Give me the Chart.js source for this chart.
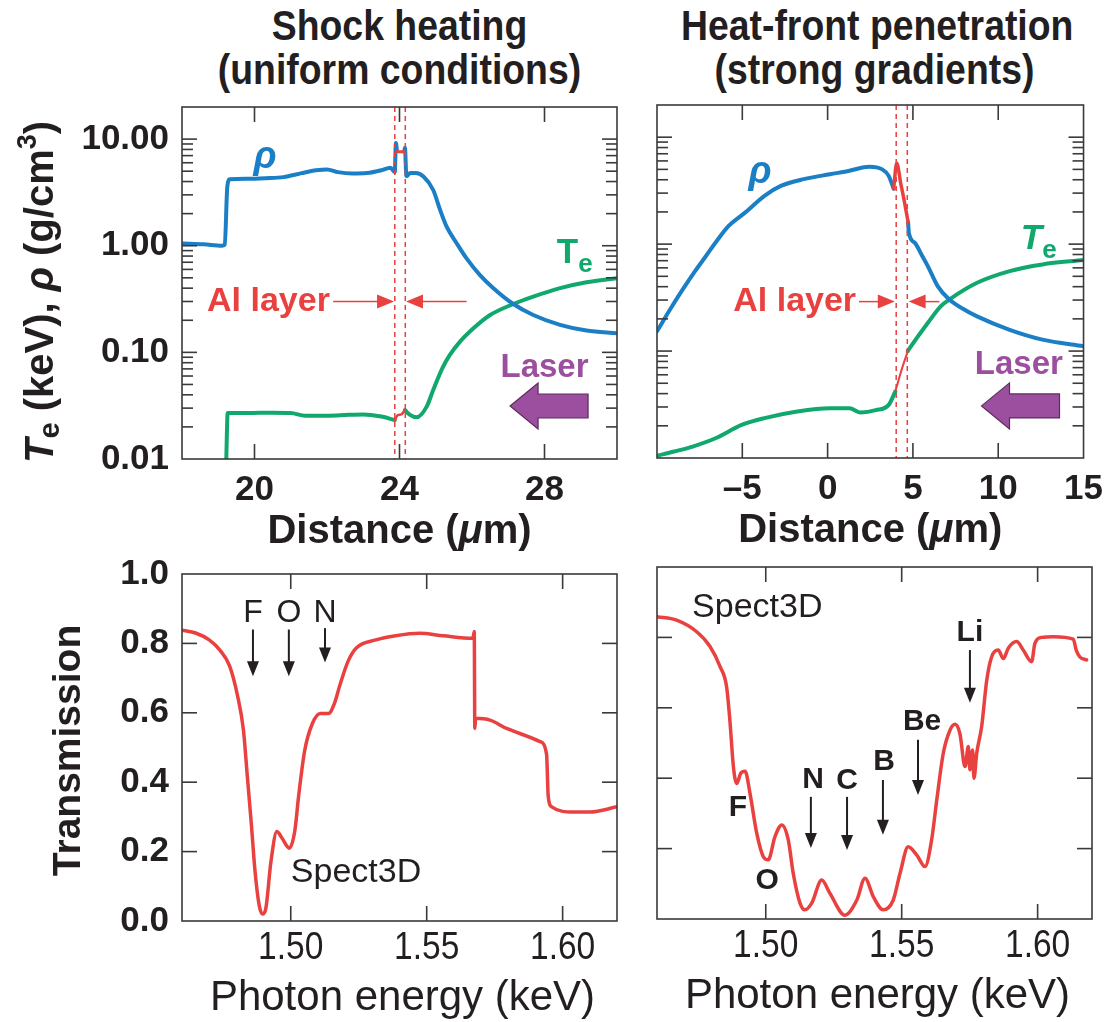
<!DOCTYPE html>
<html>
<head>
<meta charset="utf-8">
<title>Al layer: shock heating vs heat-front penetration</title>
<script src="https://cdn.jsdelivr.net/npm/chart.js@4.4.0/dist/chart.umd.min.js"></script>
<style>
  body { margin: 0; background: #fff; }
  #page { position: relative; width: 1113px; height: 1022px; overflow: hidden; }
  canvas { position: absolute; }
  .title {
    position: absolute; text-align: center; color: #231f20; white-space: nowrap;
    font-family: "Liberation Sans", Arial, sans-serif;
    font-size: 42px; line-height: 44px; font-weight: bold;
    transform: scaleX(0.89); transform-origin: center top;
  }
</style>
</head>
<body>
<div id="page">
  <div class="title" style="left:182px;width:435px;top:4px">Shock heating<br>(uniform conditions)</div>
  <div class="title" style="left:657px;width:435px;top:4px">Heat-front penetration<br>(strong gradients)</div>
  <canvas id="shock"></canvas>
  <canvas id="heat"></canvas>
  <canvas id="shockSpec"></canvas>
  <canvas id="heatSpec"></canvas>
</div>
<script>
// ---- shock heating profile (distance in um) ----
const shockRhoDist = [18.0, 18.6, 19.1, 19.18, 19.25, 19.32, 19.8, 20.3, 20.8, 21.3, 21.7, 22.0, 22.3, 22.7, 23.1, 23.5, 23.75, 23.87, 23.9, 23.93,
  23.98, 24.13, 24.15, 24.19, 24.3, 24.45, 24.66, 24.93, 25.12, 25.3, 25.58, 25.85, 26.22, 26.59, 27.14, 27.69, 28.43, 29.16, 30.0];
const shockRho = [1.05, 1.03, 1.0, 1.02, 3.6, 4.2, 4.25, 4.3, 4.4, 4.8, 5.1, 5.2, 4.9, 4.75, 4.8, 5.1, 5.4, 4.9, 9.2, 7.7,
  null, 7.6, 8.3, 4.5, 4.8, 4.8, 4.45, 3.33, 2.17, 1.51, 1.05, 0.76, 0.53, 0.40, 0.284, 0.224, 0.181, 0.16, 0.151];
const shockAlRhoDist = [23.93, 24.0, 24.13];
const shockAlRho = [7.7, 7.6, 7.6];

const shockTeDist = [19.22, 19.26, 19.8, 20.5, 21.0, 21.4, 22.0, 22.6, 23.0, 23.5, 23.87,
  24.0, 24.15, 24.29, 24.47, 24.75, 24.93, 25.2, 25.39, 25.67, 26.04, 26.5, 27.14, 27.69, 28.43, 29.16, 30.0];
const shockTe = [0.0095, 0.027, 0.027, 0.0272, 0.027, 0.0255, 0.0255, 0.026, 0.0262, 0.025, 0.0232,
  null, 0.0288, 0.0259, 0.0246, 0.031, 0.0444, 0.073, 0.0946, 0.126, 0.168, 0.224, 0.284, 0.333, 0.40, 0.454, 0.495];
const shockAlTeDist = [23.87, 23.95, 24.05, 24.15];
const shockAlTe = [0.0232, 0.0258, 0.0262, 0.0288];

// ---- heat-front profile ----
const heatRhoDist = [-10, -9.2, -8.49, -7.8, -7.14, -6.5, -5.8, -4.84, -3.7, -2.74, -1.4, 0.13, 1.28, 2.43, 3.2, 3.58, 3.87,
  4.3, 4.72, 4.76, 5.11, 5.5, 5.88, 6.45, 7.13, 7.9, 8.76, 10.67, 12.59, 15];
const heatRho = [0.153, 0.25, 0.377, 0.55, 0.77, 1.07, 1.48, 1.97, 2.83, 3.5, 4.05, 4.5, 4.85, 5.3, 5.0, 4.35, 3.3,
  null, 1.6, 1.28, 1.03, 0.8, 0.62, 0.405, 0.303, 0.25, 0.211, 0.158, 0.128, 0.111];
const heatAlRhoDist = [3.87, 4.05, 4.3, 4.5, 4.72];
const heatAlRho = [3.3, 5.7, 3.6, 2.5, 1.6];

const heatTeDist = [-10, -9.0, -7.91, -6.57, -5.04, -3.7, -1.78, 0.13, 1.28, 1.95, 2.82, 3.58, 3.97,
  4.3, 4.7, 4.82, 5.88, 6.64, 7.13, 8.76, 10.67, 12.59, 15];
const heatTe = [0.0105, 0.0115, 0.0128, 0.0153, 0.0204, 0.0236, 0.0272, 0.0292, 0.0292, 0.0266, 0.028, 0.0314, 0.0419,
  null, 0.1, 0.107, 0.184, 0.263, 0.303, 0.435, 0.56, 0.646, 0.71];
const heatAlTeDist = [3.97, 4.34, 4.7];
const heatAlTe = [0.0419, 0.067, 0.1];

// ---- Spect3D transmission (photon energy in keV) ----
const shockSpecEnergy = [1.46, 1.465, 1.47, 1.474, 1.4775, 1.4804, 1.4826, 1.484, 1.4855, 1.4869, 1.4884, 1.4896, 1.4908,
  1.4927, 1.4949, 1.4967, 1.4995, 1.5015, 1.5029, 1.5051, 1.508, 1.5109, 1.5139, 1.516, 1.5182, 1.5211, 1.5241,
  1.5313, 1.5386, 1.5474, 1.5561, 1.567, 1.5675, 1.5677, 1.568, 1.5733, 1.5794, 1.5917, 1.5941, 1.5947, 1.596,
  1.6039, 1.6101, 1.62];
const shockSpecTrans = [0.838, 0.83, 0.81, 0.78, 0.735, 0.65, 0.55, 0.42, 0.28, 0.14, 0.045, 0.02, 0.035,
  0.17, 0.258, 0.24, 0.21, 0.26, 0.36, 0.49, 0.57, 0.598, 0.598, 0.626, 0.683, 0.749, 0.787,
  0.81, 0.822, 0.829, 0.822, 0.815, 0.834, 0.555, 0.584, 0.579, 0.555, 0.517, 0.48, 0.36, 0.329,
  0.314, 0.314, 0.329];

const heatSpecEnergy = [1.46, 1.4672, 1.4746, 1.4795, 1.4832, 1.4856, 1.4868, 1.4881, 1.4893, 1.4908, 1.4924, 1.4942,
  1.4967, 1.4991, 1.5009, 1.5034, 1.5059, 1.5083, 1.5101, 1.5126, 1.5144, 1.5169, 1.5206, 1.5236, 1.5291, 1.5335,
  1.5365, 1.5396, 1.5432, 1.5469, 1.5494, 1.5524, 1.5555, 1.5586, 1.561, 1.5629, 1.5653, 1.5678, 1.5696, 1.5714,
  1.5733, 1.5745, 1.5751, 1.5761, 1.5766, 1.5776, 1.5794, 1.5813, 1.5831, 1.5855, 1.5874, 1.5892, 1.5923, 1.5947,
  1.5978, 1.599, 1.6015, 1.6058, 1.6131, 1.6142, 1.6155, 1.618];
const heatSpecTrans = [0.859, 0.849, 0.816, 0.774, 0.717, 0.66, 0.565, 0.433, 0.385, 0.414, 0.42, 0.357,
  0.243, 0.177, 0.168, 0.234, 0.267, 0.224, 0.13, 0.045, 0.026, 0.045, 0.111, 0.073, 0.011, 0.054,
  0.116, 0.063, 0.026, 0.054, 0.13, 0.205, 0.182, 0.149, 0.224, 0.338, 0.471, 0.537, 0.553, 0.527,
  0.433, 0.49, 0.424, 0.48, 0.4, 0.471, 0.546, 0.679, 0.745, 0.764, 0.74, 0.769, 0.788, 0.764,
  0.731, 0.783, 0.8, 0.802, 0.795, 0.764, 0.745, 0.736];

// ---- axes ----
const shockDistTicks = [20, 24, 28];
const heatDistTicks = [-5, 0, 5, 10, 15];
const heatDistLabels = ['\u20135', '0', '5', '10', '15'];
const profileDecades = [0.01, 0.1, 1, 10];
const profileDecadeLabels = ['0.01', '0.10', '1.00', '10.00'];
const energyTicks = [1.50, 1.55, 1.60];
const energyLabels = ['1.50', '1.55', '1.60'];
const transTicks = [0, 0.2, 0.4, 0.6, 0.8, 1.0];

// Al layer boundaries
const shockLayer = [23.87, 24.16];
const heatLayer = [4.02, 4.67];

const SANS = '"Liberation Sans", Arial, sans-serif';
const INK = '#231f20';
const BLUE = '#1b7fc6';
const GREEN = '#10a86c';
const RED = '#e8413f';
const PURPLE = '#9c4f9e';

function pts(xs, ys) {
  return xs.map((x, i) => ({ x, y: ys[i] }));
}

// minor + major ticks for the log axis
function logTicks(min, max) {
  const out = [];
  profileDecades.forEach(d => {
    for (let m = 1; m <= 9; m++) {
      const v = +(m * d).toPrecision(3);
      if (v >= min && v <= max) out.push(v);
    }
  });
  out.push(max);
  return out;
}

function isDecade(v) {
  const l = Math.log10(v);
  return Math.abs(l - Math.round(l)) < 1e-9;
}

function line(ctx, x0, y0, x1, y1) {
  ctx.beginPath(); ctx.moveTo(x0, y0); ctx.lineTo(x1, y1); ctx.stroke();
}

function arrowHead(ctx, x, y, dx, dy, len, half) {
  const n = Math.hypot(dx, dy), ux = dx / n, uy = dy / n;
  ctx.beginPath();
  ctx.moveTo(x, y);
  ctx.lineTo(x - ux * len - uy * half, y - uy * len + ux * half);
  ctx.lineTo(x - ux * len + uy * half, y - uy * len - ux * half);
  ctx.closePath();
  ctx.fill();
}

// draws a list of {t, f, dy} text runs at x, y; sx squeezes the text horizontally
function richText(ctx, runs, x, y, align, sx) {
  sx = sx || 1;
  let w = 0;
  runs.forEach(r => { ctx.font = r.f; w += ctx.measureText(r.t).width; });
  ctx.save();
  ctx.translate(x, y);
  ctx.scale(sx, 1);
  let cx = align === 'left' ? 0 : align === 'right' ? -w : -w / 2;
  ctx.textAlign = 'left';
  ctx.textBaseline = 'middle';
  runs.forEach(r => {
    ctx.font = r.f;
    ctx.fillText(r.t, cx, r.dy || 0);
    cx += ctx.measureText(r.t).width;
  });
  ctx.restore();
}

const decorPlugin = {
  id: 'decor',
  afterDatasetsDraw(chart, args, opts) {
    const { ctx, chartArea: a, scales: { x, y } } = chart;
    const px = v => x.getPixelForValue(v);
    const py = v => y.getPixelForValue(v);
    ctx.save();

    (opts.layers || []).forEach(v => {
      ctx.strokeStyle = RED; ctx.lineWidth = 1.5; ctx.setLineDash([5, 4]);
      line(ctx, px(v), a.top, px(v), a.bottom);
    });
    ctx.setLineDash([]);

    (opts.arrows || []).forEach(r => {
      const x0 = px(r.from[0]), y0 = py(r.from[1]), x1 = px(r.to[0]), y1 = py(r.to[1]);
      ctx.strokeStyle = r.color; ctx.fillStyle = r.color; ctx.lineWidth = r.width;
      const n = Math.hypot(x1 - x0, y1 - y0);
      line(ctx, x0, y0, x1 - (x1 - x0) / n * r.len * 0.8, y1 - (y1 - y0) / n * r.len * 0.8);
      arrowHead(ctx, x1, y1, x1 - x0, y1 - y0, r.len, r.half);
    });

    (opts.blockArrows || []).forEach(b => {
      const tx = px(b.tip[0]), ty = py(b.tip[1]);
      ctx.beginPath();
      ctx.moveTo(tx, ty);
      ctx.lineTo(tx + 28, ty - 23);
      ctx.lineTo(tx + 28, ty - 12);
      ctx.lineTo(tx + 78, ty - 12);
      ctx.lineTo(tx + 78, ty + 12);
      ctx.lineTo(tx + 28, ty + 12);
      ctx.lineTo(tx + 28, ty + 23);
      ctx.closePath();
      ctx.fillStyle = PURPLE; ctx.fill();
      ctx.strokeStyle = '#5b2d5c'; ctx.lineWidth = 1.2; ctx.stroke();
    });

    (opts.texts || []).forEach(t => {
      ctx.fillStyle = t.color || INK;
      richText(ctx, t.runs, px(t.at[0]), py(t.at[1]), t.align);
    });

    // frame and inward tick marks on all four sides
    ctx.strokeStyle = '#3a3a3a'; ctx.lineWidth = 1.6;
    x.ticks.forEach(t => {
      const p = px(t.value);
      if (p < a.left + 2 || p > a.right - 2) return;
      line(ctx, p, a.bottom, p, a.bottom - 15);
      line(ctx, p, a.top, p, a.top + 15);
    });
    y.ticks.forEach(t => {
      const p = py(t.value);
      if (p < a.top + 2 || p > a.bottom - 2) return;
      const len = opts.logY ? (isDecade(t.value) ? 15 : 11) : 15;
      line(ctx, a.left, p, a.left + len, p);
      line(ctx, a.right, p, a.right - len, p);
    });
    ctx.strokeRect(a.left, a.top, a.right - a.left, a.bottom - a.top);

    // condensed tick labels under the energy axis
    ctx.fillStyle = INK;
    if (opts.xTickText) {
      const o = opts.xTickText;
      x.ticks.forEach((t, i) => {
        richText(ctx, [{ t: o.labels[i], f: o.font }], px(t.value), a.bottom + o.dy, 'center', o.sx);
      });
    }

    // axis titles, placed relative to the plot frame
    if (opts.xTitle) {
      const o = opts.xTitle;
      richText(ctx, o.runs, (a.left + a.right) / 2 + (o.dx || 0), a.bottom + o.dy, 'center', o.sx);
    }
    if (opts.yTitle) {
      ctx.translate(a.left + opts.yTitle.dx, (a.top + a.bottom) / 2 + (opts.yTitle.dy || 0));
      ctx.rotate(-Math.PI / 2);
      richText(ctx, opts.yTitle.runs, 0, 0);
    }
    ctx.restore();
  }
};

function makePanel(id, cfg) {
  const canvas = document.getElementById(id);
  canvas.width = cfg.w; canvas.height = cfg.h;
  canvas.style.left = cfg.left + 'px';
  canvas.style.top = cfg.top + 'px';
  const yScale = cfg.logY ? {
    type: 'logarithmic', min: 0.01, max: 20,
    afterBuildTicks: s => { s.ticks = logTicks(0.01, 20).map(v => ({ value: v })); },
    ticks: {
      display: cfg.yLabels, autoSkip: false, padding: 13, color: INK,
      font: { family: SANS, size: 35, weight: 'bold' },
      callback: v => { const i = profileDecades.findIndex(d => Math.abs(d - v) < 1e-9); return i < 0 ? '' : profileDecadeLabels[i]; }
    }
  } : {
    type: 'linear', min: 0, max: 1,
    afterBuildTicks: s => { s.ticks = transTicks.map(v => ({ value: v })); },
    ticks: {
      display: cfg.yLabels, autoSkip: false, padding: 13, color: INK,
      font: { family: SANS, size: 35, weight: 'bold' },
      callback: v => v.toFixed(1)
    }
  };
  Object.assign(yScale, {
    bounds: 'data',
    grid: { display: false, drawTicks: false },
    border: { display: false },
    afterFit: s => { s.width = cfg.area.left; }
  });
  return new Chart(canvas, {
    type: 'line',
    data: { datasets: cfg.datasets },
    options: {
      responsive: false, animation: false, events: [],
      layout: { padding: { left: 0, top: cfg.area.top, right: cfg.w - cfg.area.right, bottom: 0 } },
      elements: {
        point: { radius: 0 },
        line: { cubicInterpolationMode: 'monotone', borderCapStyle: 'round', borderJoinStyle: 'round', fill: false }
      },
      plugins: {
        legend: { display: false },
        tooltip: { enabled: false },
        decor: cfg.decor
      },
      scales: {
        x: {
          type: 'linear', min: cfg.xRange[0], max: cfg.xRange[1], bounds: 'data',
          grid: { display: false, drawTicks: false },
          border: { display: false },
          afterBuildTicks: s => { s.ticks = cfg.xTicks.map(v => ({ value: v })); },
          afterFit: s => { s.height = cfg.h - cfg.area.bottom; },
          ticks: {
            display: !!cfg.xLabel,
            autoSkip: false, maxRotation: 0, padding: 10, color: INK,
            font: { family: SANS, size: 35, weight: 'bold' },
            callback: cfg.xLabel || (() => '')
          }
        },
        y: yScale
      }
    },
    plugins: [decorPlugin]
  });
}

const bold = s => 'bold ' + s + 'px ' + SANS;
const boldIt = s => 'italic bold ' + s + 'px ' + SANS;
const reg = s => s + 'px ' + SANS;

const distanceTitle = { runs: [{ t: 'Distance (', f: bold(40) }, { t: '\u03bc', f: boldIt(40) }, { t: 'm)', f: bold(40) }], dy: 73 };
const photonTitle = { runs: [{ t: 'Photon energy (keV)', f: reg(42) }], dy: 77, dx: 3 };
const energyTickText = { labels: energyLabels, font: reg(39), sx: 0.86, dy: 27 };

function blackArrow(x, yFrom, yTo) {
  return { from: [x, yFrom], to: [x, yTo], color: INK, width: 2, len: 15, half: 6 };
}
function redArrow(x0, x1, yv) {
  return { from: [x0, yv], to: [x1, yv], color: RED, width: 1.5, len: 17, half: 7 };
}

makePanel('shock', {
  left: 0, top: 0, w: 640, h: 560,
  area: { left: 182, top: 107, right: 617, bottom: 459 },
  xRange: [18, 30], xTicks: shockDistTicks,
  xLabel: v => String(v),
  logY: true, yLabels: true,
  datasets: [
    { data: pts(shockAlRhoDist, shockAlRho), borderColor: RED, borderWidth: 3, order: 0 },
    { data: pts(shockAlTeDist, shockAlTe), borderColor: RED, borderWidth: 2.5, order: 0 },
    { data: pts(shockRhoDist, shockRho), borderColor: BLUE, borderWidth: 4, order: 1 },
    { data: pts(shockTeDist, shockTe), borderColor: GREEN, borderWidth: 4, order: 1 }
  ],
  decor: {
    logY: true,
    layers: shockLayer,
    arrows: [redArrow(22.17, shockLayer[0] - 0.02, 0.3), redArrow(25.85, shockLayer[1] + 0.02, 0.3)],
    blockArrows: [{ tip: [27.05, 0.0314] }],
    texts: [
      { at: [22.08, 0.3], align: 'right', color: RED, runs: [{ t: 'Al layer', f: bold(34) }] },
      { at: [20.29, 6.67], color: BLUE, runs: [{ t: '\u03c1', f: boldIt(38) }] },
      { at: [28.34, 0.855], align: 'left', color: GREEN, runs: [{ t: 'T', f: bold(35) }, { t: 'e', f: bold(26), dy: 12 }] },
      { at: [28.0, 0.0714], color: PURPLE, runs: [{ t: 'Laser', f: bold(33) }] }
    ],
    xTitle: distanceTitle,
    yTitle: {
      dx: -140, dy: 9,
      runs: [
        { t: 'T', f: boldIt(40) }, { t: 'e', f: bold(29), dy: 9 },
        { t: ' (keV), ', f: bold(40) }, { t: '\u03c1', f: boldIt(40) },
        { t: ' (g/cm', f: bold(40) }, { t: '3', f: bold(27), dy: -13 }, { t: ')', f: bold(40) }
      ]
    }
  }
});

makePanel('heat', {
  left: 640, top: 0, w: 473, h: 560,
  area: { left: 17, top: 105, right: 452, bottom: 458 },
  xRange: [-10, 15], xTicks: heatDistTicks,
  xLabel: v => heatDistLabels[heatDistTicks.indexOf(v)],
  logY: true, yLabels: false,
  datasets: [
    { data: pts(heatAlRhoDist, heatAlRho), borderColor: RED, borderWidth: 3.5, order: 0 },
    { data: pts(heatAlTeDist, heatAlTe), borderColor: RED, borderWidth: 2, order: 0 },
    { data: pts(heatRhoDist, heatRho), borderColor: BLUE, borderWidth: 4, order: 1 },
    { data: pts(heatTeDist, heatTe), borderColor: GREEN, borderWidth: 4, order: 1 }
  ],
  decor: {
    logY: true,
    layers: heatLayer,
    arrows: [redArrow(1.84, heatLayer[0] - 0.08, 0.29), redArrow(6.55, heatLayer[1] + 0.08, 0.29)],
    blockArrows: [{ tip: [9.02, 0.0307] }],
    texts: [
      { at: [1.67, 0.29], align: 'right', color: RED, runs: [{ t: 'Al layer', f: bold(34) }] },
      { at: [-3.97, 4.72], color: BLUE, runs: [{ t: '\u03c1', f: boldIt(38) }] },
      { at: [11.32, 1.11], align: 'left', color: GREEN, runs: [{ t: 'T', f: boldIt(35) }, { t: 'e', f: bold(26), dy: 12 }] },
      { at: [11.21, 0.0745], color: PURPLE, runs: [{ t: 'Laser', f: bold(33) }] }
    ],
    xTitle: distanceTitle
  }
});

makePanel('shockSpec', {
  left: 0, top: 540, w: 640, h: 482,
  area: { left: 182, top: 28, right: 617, bottom: 381 },
  xRange: [1.46, 1.62], xTicks: energyTicks,
  logY: false, yLabels: true,
  datasets: [
    { data: pts(shockSpecEnergy, shockSpecTrans), borderColor: RED, borderWidth: 3.5 }
  ],
  decor: {
    arrows: [blackArrow(1.4861, 0.84, 0.705), blackArrow(1.4993, 0.84, 0.705), blackArrow(1.5126, 0.844, 0.745)],
    texts: [
      { at: [1.4861, 0.887], runs: [{ t: 'F', f: reg(32) }] },
      { at: [1.4993, 0.887], runs: [{ t: 'O', f: reg(32) }] },
      { at: [1.5126, 0.887], runs: [{ t: 'N', f: reg(32) }] },
      { at: [1.524, 0.139], runs: [{ t: 'Spect3D', f: reg(34) }] }
    ],
    xTickText: energyTickText,
    xTitle: photonTitle,
    yTitle: { dx: -113, dy: 3, runs: [{ t: 'Transmission', f: bold(39) }] }
  }
});

makePanel('heatSpec', {
  left: 640, top: 540, w: 473, h: 482,
  area: { left: 17, top: 27, right: 452, bottom: 379 },
  xRange: [1.46, 1.62], xTicks: energyTicks,
  logY: false, yLabels: false,
  datasets: [
    { data: pts(heatSpecEnergy, heatSpecTrans), borderColor: RED, borderWidth: 3.5 }
  ],
  decor: {
    arrows: [
      blackArrow(1.5751, 0.764, 0.614), blackArrow(1.556, 0.509, 0.352), blackArrow(1.5431, 0.395, 0.239),
      blackArrow(1.5299, 0.347, 0.196), blackArrow(1.5166, 0.347, 0.202)
    ],
    texts: [
      { at: [1.4729, 0.886], align: 'left', runs: [{ t: 'Spect3D', f: reg(34) }] },
      { at: [1.5751, 0.8125], runs: [{ t: 'Li', f: bold(30) }] },
      { at: [1.5575, 0.56], runs: [{ t: 'Be', f: bold(30) }] },
      { at: [1.5435, 0.446], runs: [{ t: 'B', f: bold(30) }] },
      { at: [1.5299, 0.392], runs: [{ t: 'C', f: bold(30) }] },
      { at: [1.5174, 0.395], runs: [{ t: 'N', f: bold(30) }] },
      { at: [1.4898, 0.315], runs: [{ t: 'F', f: bold(30) }] },
      { at: [1.5005, 0.108], runs: [{ t: 'O', f: bold(30) }] }
    ],
    xTickText: energyTickText,
    xTitle: photonTitle
  }
});
</script>
</body>
</html>
